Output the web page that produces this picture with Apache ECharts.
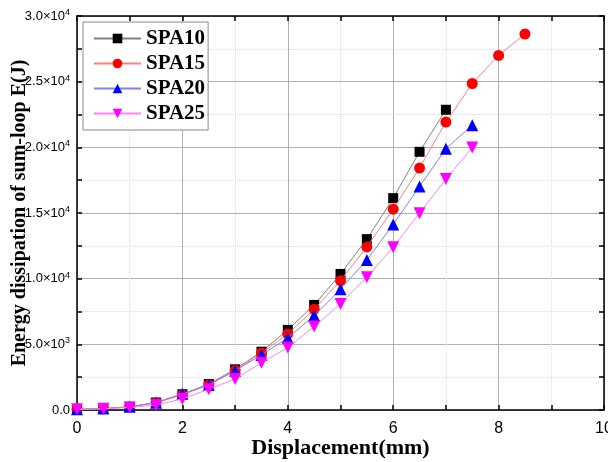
<!DOCTYPE html>
<html><head><meta charset="utf-8">
<script src="https://cdn.jsdelivr.net/npm/echarts@6/dist/echarts.min.js"></script>
<style>html,body{margin:0;padding:0;background:#fff}#c{width:608px;height:462px}</style>
</head><body><div id="c"></div>
<script>
const seriesNames = ['SPA10', 'SPA15', 'SPA20', 'SPA25'];
const xSPA10 = [0, 0.5, 1, 1.5, 2, 2.5, 3, 3.5, 4, 4.5, 5, 5.5, 6, 6.5, 7];
const ySPA10 = [60, 100, 240, 570, 1200, 1980, 3100, 4440, 6100, 8000, 10360, 13010, 16130, 19660, 22860];
const xSPA15 = [0, 0.5, 1, 1.5, 2, 2.5, 3, 3.5, 4, 4.5, 5, 5.5, 6, 6.5, 7, 7.5, 8, 8.5];
const ySPA15 = [60, 100, 230, 550, 1150, 1920, 3020, 4340, 5790, 7670, 9850, 12420, 15290, 18420, 21920, 24860, 27000, 28630];
const xSPA20 = [0, 0.5, 1, 1.5, 2, 2.5, 3, 3.5, 4, 4.5, 5, 5.5, 6, 6.5, 7, 7.5];
const ySPA20 = [60, 110, 240, 560, 1240, 1900, 2990, 4190, 5490, 7190, 9190, 11430, 14120, 17020, 19890, 21690];
const xSPA25 = [0, 0.5, 1, 1.5, 2, 2.5, 3, 3.5, 4, 4.5, 5, 5.5, 6, 6.5, 7, 7.5];
const ySPA25 = [50, 90, 190, 380, 840, 1580, 2360, 3600, 4750, 6350, 8080, 10110, 12400, 14990, 17580, 19990];
const xTicks = [0, 2, 4, 6, 8, 10];
const yTickLabels = {0: ['0.0', ''], 5000: ['5.0×10', '3'], 10000: ['1.0×10', '4'], 15000: ['1.5×10', '4'], 20000: ['2.0×10', '4'], 25000: ['2.5×10', '4'], 30000: ['3.0×10', '4']};

const xs = [xSPA10, xSPA15, xSPA20, xSPA25];
const ys = [ySPA10, ySPA15, ySPA20, ySPA25];
const markerColors = ['#000000', '#ff0000', '#0000ff', '#ff00ff'];
const lineColors = ['#808080', '#ff8080', '#8080ff', '#ff80ff'];
const symbols = ['rect', 'circle', 'triangle', 'triangle'];
const rotates = [0, 0, 0, 180];
const sizes = [10, 11, 12, 12];

const chart = echarts.init(document.getElementById('c'));
const tickFont = 'Liberation Sans';
const baseAxis = {
  axisLine: {show: true, onZero: false, lineStyle: {color: '#000', width: 1.5}},
  axisTick: {show: true, inside: true, length: 5, lineStyle: {color: '#000', width: 1.5}},
  minorTick: {show: true, splitNumber: 2, length: 5, lineStyle: {color: '#000', width: 1.5}},
};
chart.setOption({
  animation: false,
  grid: {left: 77, right: 4, top: 16, bottom: 52, containLabel: false, outerBoundsMode: 'none'},
  legend: {
    data: seriesNames,
    left: 83, top: 22,
    orient: 'vertical',
    itemWidth: 47, itemHeight: 12, itemGap: 4,
    padding: [6, 3, 6, 10],
    borderColor: '#888', borderWidth: 1,
    backgroundColor: '#fff',
    textStyle: {fontFamily: 'Liberation Serif', fontWeight: 'bold', fontSize: 21, color: '#000'}
  },
  xAxis: [{
    ...baseAxis,
    type: 'value', min: 0, max: 10, interval: 2,
    name: 'Displacement(mm)', nameLocation: 'middle', nameGap: 27, nameMoveOverlap: false,
    nameTextStyle: {fontFamily: 'Liberation Serif', fontWeight: 'bold', fontSize: 22, color: '#000'},
    axisLabel: {fontFamily: tickFont, fontSize: 16, color: '#000', margin: 11, formatter: v => xTicks.includes(v) ? String(v) : ''},
    splitLine: {show: true, lineStyle: {color: '#b0b0b0', width: 1}},
    minorSplitLine: {show: true, lineStyle: {color: '#dcdcdc', type: 'dotted', width: 1}}
  }, {
    ...baseAxis,
    type: 'value', min: 0, max: 10, interval: 2, position: 'top',
    axisLabel: {show: false}, splitLine: {show: false}
  }],
  yAxis: [{
    ...baseAxis,
    type: 'value', min: 0, max: 30000, interval: 5000,
    name: 'Energy dissipation of sum-loop E(J)', nameLocation: 'middle', nameGap: 47, nameMoveOverlap: false,
    nameTextStyle: {fontFamily: 'Liberation Serif', fontWeight: 'bold', fontSize: 20, color: '#000'},
    axisLabel: {
      margin: 7, fontFamily: tickFont, fontSize: 13, color: '#000',
      formatter: v => { const t = yTickLabels[v]; return t ? (t[1] ? '{a|' + t[0] + '}{s|' + t[1] + '}' : '{a|' + t[0] + '}') : ''; },
      rich: {a: {fontFamily: tickFont, fontSize: 13, color: '#000'}, s: {fontFamily: tickFont, fontSize: 9, color: '#000', verticalAlign: 'top', padding: [0, 0, 7, 0]}}
    },
    splitLine: {show: true, lineStyle: {color: '#b0b0b0', width: 1}},
    minorSplitLine: {show: true, lineStyle: {color: '#dcdcdc', type: 'dotted', width: 1}}
  }, {
    ...baseAxis,
    type: 'value', min: 0, max: 30000, interval: 5000, position: 'right',
    axisLabel: {show: false}, splitLine: {show: false}
  }],
  series: seriesNames.map((n, i) => ({
    name: n, type: 'line',
    data: xs[i].map((x, j) => [x, ys[i][j]]),
    symbol: symbols[i], symbolRotate: rotates[i], symbolSize: sizes[i],
    itemStyle: {color: markerColors[i]},
    lineStyle: {color: lineColors[i], width: 1},
    z: 2 + i
  }))
});
</script></body></html>
